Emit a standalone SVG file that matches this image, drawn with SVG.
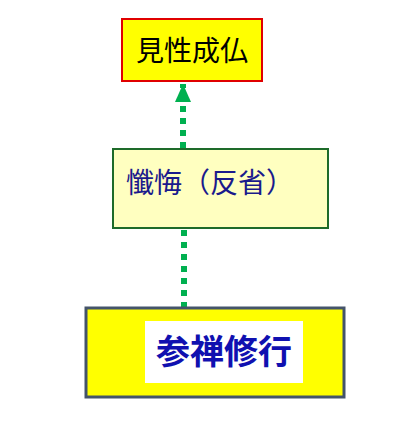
<svg xmlns="http://www.w3.org/2000/svg" width="405" height="431" viewBox="0 0 405 431">
<style>
.dot{stroke:#00B050;stroke-width:6;stroke-dasharray:6 6;fill:none}
.t{font-family:"Liberation Sans","Noto Sans CJK JP",sans-serif}
</style>
<defs>
<marker id="ah" markerUnits="userSpaceOnUse" markerWidth="20" markerHeight="16" refX="18" refY="8" orient="auto">
<path d="M0,0 L18,8 L0,16 Z" fill="#00B050"/>
</marker>
</defs>
<rect width="405" height="431" fill="#fff"/>
<g id="connectors">
<line class="dot" x1="183" y1="148" x2="183" y2="84" marker-end="url(#ah)"/>
<line class="dot" x1="184" y1="230" x2="184" y2="308"/>
</g>
<g id="n1">
<rect x="122" y="19" width="140" height="62" fill="#FFFF00" stroke="#E00000" stroke-width="2"/>
<text class="t" x="192" y="61" font-size="28" text-anchor="middle" fill="#000">見性成仏</text>
</g>
<g id="n2">
<rect x="113" y="149" width="215" height="79" fill="#FFFFC0" stroke="#1E6B2A" stroke-width="2"/>
<text class="t" x="126" y="193" font-size="28" fill="#1a1a8c">懺悔（反省）</text>
</g>
<g id="n3">
<rect x="86" y="308" width="258" height="89" fill="#FFFF00" stroke="#44546A" stroke-width="3"/>
<rect x="145" y="321" width="158" height="62" fill="#fff"/>
<text class="t" x="224" y="364" font-size="34" font-weight="bold" text-anchor="middle" fill="#1010B0">参禅修行</text>
</g>
</svg>
